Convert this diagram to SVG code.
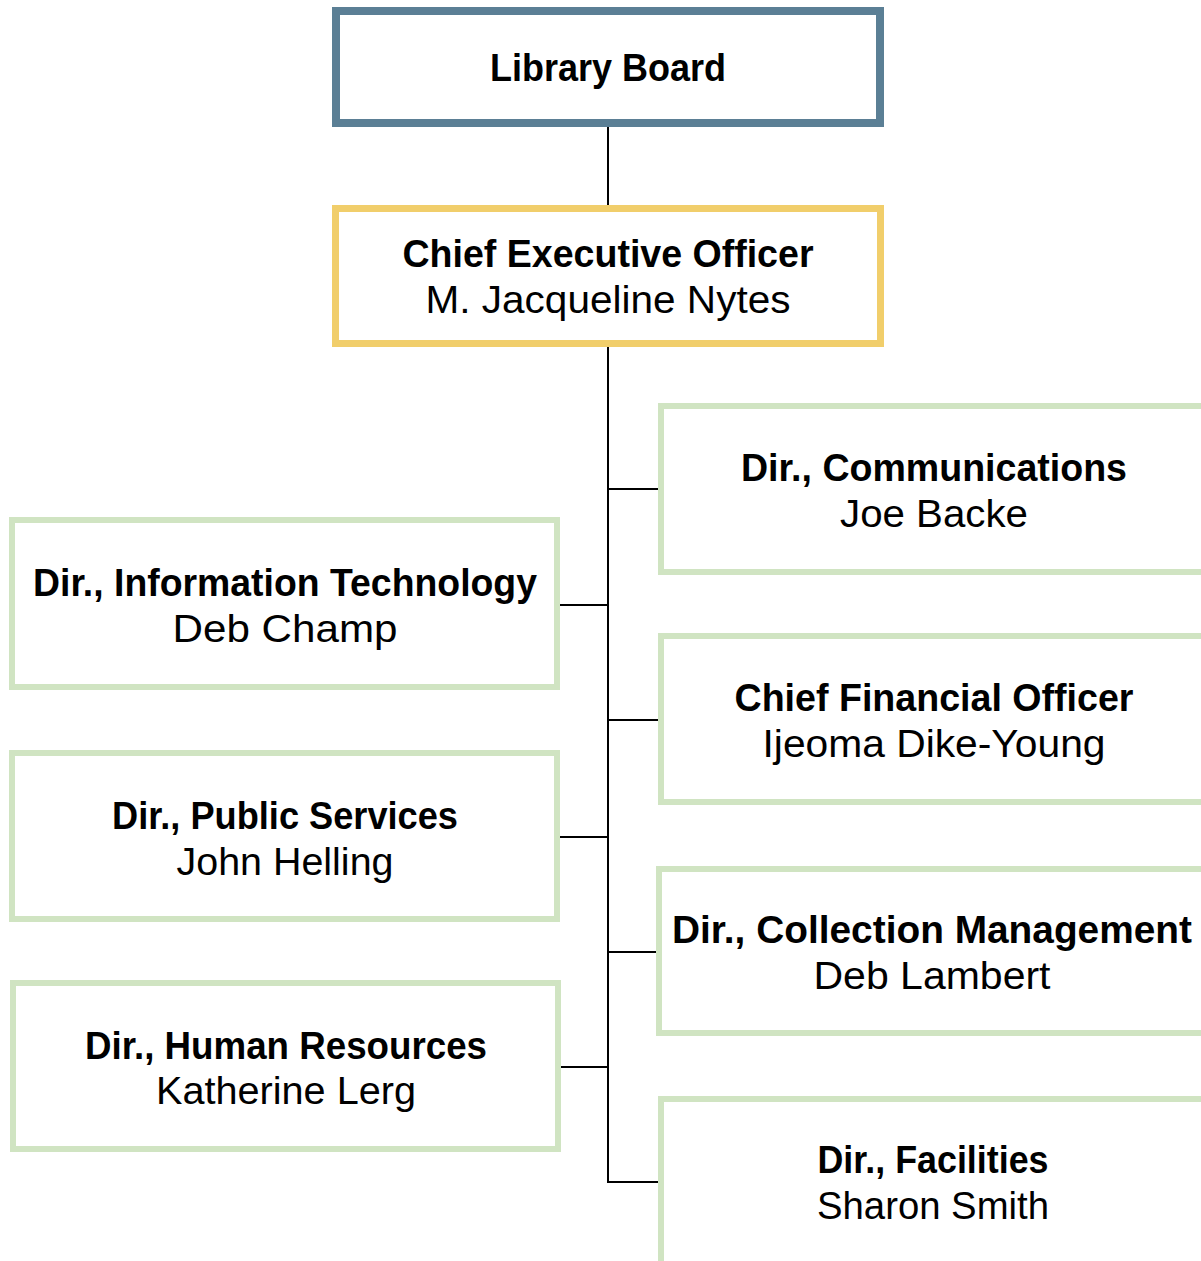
<svg xmlns="http://www.w3.org/2000/svg" width="1201" height="1261" viewBox="0 0 1201 1261">
<style>
.box{fill:#fff;}
.board{stroke:#5B7F95;stroke-width:8;}
.ceo{stroke:#F1CE6B;stroke-width:7;}
.dir{stroke:#D0E4C2;stroke-width:6;}
.conn line{stroke:#000;stroke-width:2;}
text{font-family:"Liberation Sans",Arial,sans-serif;font-size:38px;fill:#000;text-anchor:middle;}
.t{font-weight:bold;}
</style>
<rect width="1201" height="1261" fill="#fff"/>
<g class="conn">
<line x1="608" y1="127" x2="608" y2="205"/>
<line x1="608" y1="347" x2="608" y2="1183"/>
<line x1="607" y1="489" x2="658" y2="489"/>
<line x1="560" y1="605" x2="609" y2="605"/>
<line x1="607" y1="720" x2="658" y2="720"/>
<line x1="560" y1="837" x2="609" y2="837"/>
<line x1="607" y1="952" x2="656" y2="952"/>
<line x1="561" y1="1067" x2="609" y2="1067"/>
<line x1="607" y1="1182" x2="658" y2="1182"/>
</g>
<g id="board">
<rect class="box board" x="336" y="11" width="544" height="112"/>
<text class="t" x="608" y="81" textLength="236" lengthAdjust="spacingAndGlyphs">Library Board</text>
</g>
<g id="ceo">
<rect class="box ceo" x="335.5" y="208.5" width="545" height="135"/>
<text class="t" x="608" y="267" textLength="411" lengthAdjust="spacingAndGlyphs">Chief Executive Officer</text>
<text x="608" y="313" textLength="365" lengthAdjust="spacingAndGlyphs">M. Jacqueline Nytes</text>
</g>
<g id="comm">
<rect class="box dir" x="661" y="406" width="560" height="166"/>
<text class="t" x="934" y="481" textLength="386" lengthAdjust="spacingAndGlyphs">Dir., Communications</text>
<text x="934" y="527" textLength="188" lengthAdjust="spacingAndGlyphs">Joe Backe</text>
</g>
<g id="it">
<rect class="box dir" x="12" y="520" width="545" height="167"/>
<text class="t" x="285" y="596" textLength="504" lengthAdjust="spacingAndGlyphs">Dir., Information Technology</text>
<text x="285" y="642" textLength="225" lengthAdjust="spacingAndGlyphs">Deb Champ</text>
</g>
<g id="cfo">
<rect class="box dir" x="661" y="636" width="560" height="166"/>
<text class="t" x="934" y="711" textLength="399" lengthAdjust="spacingAndGlyphs">Chief Financial Officer</text>
<text x="934" y="757" textLength="343" lengthAdjust="spacingAndGlyphs">Ijeoma Dike-Young</text>
</g>
<g id="ps">
<rect class="box dir" x="12" y="753" width="545" height="166"/>
<text class="t" x="285" y="829" textLength="346" lengthAdjust="spacingAndGlyphs">Dir., Public Services</text>
<text x="285" y="875" textLength="217" lengthAdjust="spacingAndGlyphs">John Helling</text>
</g>
<g id="cm">
<rect class="box dir" x="659" y="869" width="562" height="164"/>
<text class="t" x="932" y="943" textLength="520" lengthAdjust="spacingAndGlyphs">Dir., Collection Management</text>
<text x="932" y="989" textLength="237" lengthAdjust="spacingAndGlyphs">Deb Lambert</text>
</g>
<g id="hr">
<rect class="box dir" x="13" y="983" width="545" height="166"/>
<text class="t" x="286" y="1059" textLength="402" lengthAdjust="spacingAndGlyphs">Dir., Human Resources</text>
<text x="286" y="1104" textLength="260" lengthAdjust="spacingAndGlyphs">Katherine Lerg</text>
</g>
<g id="fac">
<rect class="box dir" x="661" y="1099" width="560" height="200"/>
<text class="t" x="933" y="1173" textLength="231" lengthAdjust="spacingAndGlyphs">Dir., Facilities</text>
<text x="933" y="1219" textLength="232" lengthAdjust="spacingAndGlyphs">Sharon Smith</text>
</g>
</svg>
